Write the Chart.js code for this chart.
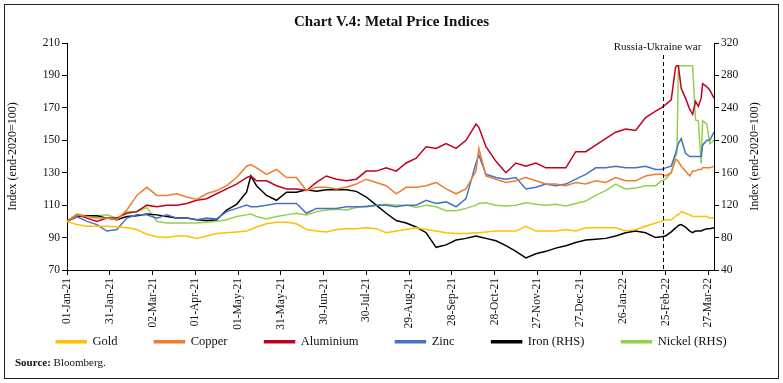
<!DOCTYPE html>
<html>
<head>
<meta charset="utf-8">
<title>Metal Price Indices</title>
<script src="https://cdn.jsdelivr.net/npm/chart.js@4.4.0/dist/chart.umd.min.js"></script>
<style>
  html, body { margin: 0; padding: 0; background: #fff; }
</style>
</head>
<body>
<canvas id="myChart" width="783" height="383"></canvas>
<script>
// x positions: days since 01-Jan-21 (weekly readings, denser around the war)
var days = [0, 7, 14, 21, 28, 35, 42, 49, 56, 63,
            70, 77, 84, 91, 98, 105, 112, 119, 126, 129,
            133, 140, 147, 154, 161, 168, 175, 182, 189, 196,
            203, 210, 217, 224, 231, 238, 245, 252, 259, 266,
            273, 280, 287, 289, 294, 301, 308, 315, 322, 329,
            336, 343, 350, 357, 364, 371, 378, 385, 392, 399,
            406, 413, 417, 420, 424, 427, 428, 429, 431, 434,
            437, 439, 441, 443, 445, 446, 449, 451, 454];

// left axis
var gold = [100, 98, 97, 97, 97, 96.5, 96, 95, 92, 90.5,
            90, 91, 91, 89.5, 91, 92.5, 93, 93.5, 94, 95,
            96.5, 98.5, 99.5, 99.5, 98.5, 95, 94, 93.5, 95, 95.5,
            95.5, 96, 95.5, 93, 94, 95, 96, 95, 94, 93,
            92.5, 92.5, 93, 93, 93.5, 94, 94, 94, 97, 94,
            94, 94, 95, 94, 96, 96, 96, 96, 94, 95,
            97, 99, 100, 101, 101, 103, 104, 104, 106, 105,
            104, 103, 103, 103, 103, 103, 103, 102, 102];
var copper = [100, 104, 103, 102, 102, 101, 107, 116, 121, 116,
              116, 117, 115, 113.5, 117, 119, 122, 127, 134, 135,
              133, 129, 132, 127, 127, 119, 121, 121, 120, 121,
              123, 126, 124, 122, 117, 121, 121, 122, 124, 120,
              117, 120, 131, 145, 128, 126, 124, 125, 127, 125,
              123, 123, 122, 124, 123, 125, 124, 127, 125, 125,
              128, 129, 129, 128, 130, 138, 138, 137, 134, 131,
              128, 131, 131, 132, 132, 133, 133, 133, 134];
var aluminium = [100, 104, 102, 100, 102, 102, 105, 106, 110, 109,
                 110, 110, 111, 113, 114, 117, 120, 123, 127, 128,
                 125, 125, 122, 120, 120, 119, 124, 128, 126, 125,
                 126, 131, 131, 133, 131, 136, 139, 146, 145, 148,
                 145, 150, 160, 158, 146, 137, 130, 136, 134, 136,
                 133, 133, 133, 143, 143, 147, 151, 155, 157, 156,
                 164, 168, 170, 172, 175, 195, 196, 196, 182, 176,
                 169, 166, 174, 171, 176, 185, 183, 181, 176];
var zinc = [100, 103, 100, 98, 94, 95, 102, 104, 104, 102,
            104, 102, 102, 101, 102, 101.5, 106, 108, 110, 109,
            109, 110, 111, 111, 111, 105, 108, 108, 108, 109,
            109, 109, 110, 110, 109, 110, 110, 113, 111, 112,
            109, 114, 136, 141, 129, 127, 126, 127, 120, 121,
            123, 122, 123, 126, 129, 133, 133, 134, 133, 133,
            134, 132, 132, 133, 134, 142, 145, 148, 151, 142,
            140, 140, 140, 140, 140, 147, 150, 150, 155];

// right axis
var iron = [100, 106, 107, 107, 104, 102, 106, 107, 109, 108,
            106, 104, 104, 102, 101, 102, 114, 121, 136, 156,
            144, 132, 126, 136, 136, 139, 137, 139, 139, 139,
            137, 130, 120, 110, 101, 98, 93, 86, 68, 71,
            77, 79, 82, 81, 79, 76, 70, 63, 55, 60,
            63, 67, 70, 74, 77, 78, 79, 82, 86, 88,
            86, 80, 81, 82, 87, 92, 93, 95, 96, 93,
            88, 86, 88, 88, 88, 89, 91, 91, 92];
var nickel = [100, 109, 107, 107, 108, 104, 112, 112, 117, 100,
              98, 98, 98, 98, 99, 100, 102, 106, 108, 109,
              106, 103, 106, 108, 110, 108, 112, 114, 115, 114,
              117, 119, 120, 121, 120, 120, 117, 120, 118, 113,
              113, 116, 120, 122, 123, 120, 119, 120, 123, 121,
              120, 121, 119, 122, 125, 132, 138, 146, 140, 141,
              144, 144, 150, 152, 160, 180, 184, 292, 292, 292,
              292, 292, 225, 224, 171, 224, 220, 196, 200];

var tickDays = [0, 30, 60, 90, 120, 150, 180, 210, 240, 270, 300, 330, 360, 390, 420, 450];
var tickLabels = ['01-Jan-21', '31-Jan-21', '02-Mar-21', '01-Apr-21', '01-May-21', '31-May-21',
                  '30-Jun-21', '30-Jul-21', '29-Aug-21', '28-Sep-21', '28-Oct-21', '27-Nov-21',
                  '27-Dec-21', '26-Jan-22', '25-Feb-22', '27-Mar-22'];
var warDay = 418;

var serif = "'Liberation Serif', 'Times New Roman', serif";

function pts(vals) {
  return vals.map(function (v, i) { return {x: days[i], y: v}; });
}

var extras = {
  id: 'extras',
  afterLayout: function (chart) {
    // the date labels hang below the legend's top edge; stretch the x box so they are not clipped
    var x = chart.scales.x;
    x.bottom = x.top + 60;
    x.height = 60;
  },
  afterDraw: function (chart) {
    var ctx = chart.ctx;
    var area = chart.chartArea;
    ctx.save();
    ctx.strokeStyle = '#222';
    ctx.lineWidth = 1;
    ctx.strokeRect(4.5, 4.5, 774, 374);

    ctx.fillStyle = '#111';
    ctx.textAlign = 'center';
    ctx.textBaseline = 'middle';
    ctx.font = 'bold 15px ' + serif;
    ctx.fillText('Chart V.4: Metal Price Indices', 391.5, 22);

    // war marker
    var wx = Math.round(chart.scales.x.getPixelForValue(warDay)) + 0.5;
    ctx.strokeStyle = '#000';
    ctx.setLineDash([4, 3]);
    ctx.beginPath();
    ctx.moveTo(wx, 55);
    ctx.lineTo(wx, area.bottom);
    ctx.stroke();
    ctx.setLineDash([]);
    ctx.font = '11px ' + serif;
    ctx.fillText('Russia-Ukraine war', wx - 6, 47);

    // right axis title reads bottom to top like the left one
    ctx.save();
    ctx.translate(755, (area.top + area.bottom) / 2);
    ctx.rotate(-Math.PI / 2);
    ctx.font = '12px ' + serif;
    ctx.fillText('Index (end-2020=100)', 0, 0);
    ctx.restore();

    ctx.textAlign = 'left';
    ctx.font = 'bold 11px ' + serif;
    ctx.fillText('Source:', 15, 363);
    var w = ctx.measureText('Source: ').width;
    ctx.font = '11px ' + serif;
    ctx.fillText('Bloomberg.', 15 + w, 363);
    ctx.restore();
  }
};

var tickFont = {family: serif, size: 11.5};

var ctx = document.getElementById('myChart').getContext('2d');
var myChart = new Chart(ctx, {
  type: 'line',
  data: {
    datasets: [{
      label: 'Gold', data: pts(gold), borderColor: '#FFC000', backgroundColor: '#FFC000', yAxisID: 'y'
    }, {
      label: 'Copper', data: pts(copper), borderColor: '#ED7D31', backgroundColor: '#ED7D31', yAxisID: 'y'
    }, {
      label: 'Aluminium', data: pts(aluminium), borderColor: '#C00020', backgroundColor: '#C00020', yAxisID: 'y'
    }, {
      label: 'Zinc', data: pts(zinc), borderColor: '#4472C4', backgroundColor: '#4472C4', yAxisID: 'y'
    }, {
      label: 'Iron (RHS)', data: pts(iron), borderColor: '#000000', backgroundColor: '#000000', yAxisID: 'y1'
    }, {
      label: 'Nickel (RHS)', data: pts(nickel), borderColor: '#92D050', backgroundColor: '#92D050', yAxisID: 'y1'
    }]
  },
  options: {
    responsive: false,
    devicePixelRatio: 1,
    animation: false,
    elements: {
      point: {radius: 0},
      line: {borderWidth: 1.5, tension: 0}
    },
    layout: {padding: {top: 43, left: 0, right: 0, bottom: 25}},
    scales: {
      x: {
        type: 'linear',
        min: 0,
        max: 454,
        afterBuildTicks: function (s) { s.ticks = tickDays.map(function (v) { return {value: v}; }); },
        afterFit: function (s) { s.height = 28.5; },
        ticks: {
          autoSkip: false, minRotation: 90, maxRotation: 90, padding: 3, color: '#111', font: tickFont,
          callback: function (v) { return tickLabels[tickDays.indexOf(v)]; }
        },
        grid: {drawOnChartArea: false, tickLength: 5, color: '#000'},
        border: {color: '#000'}
      },
      y: {
        position: 'left',
        min: 70,
        max: 210,
        afterFit: function (s) { s.width = 67; },
        ticks: {stepSize: 20, padding: 2, color: '#111', font: tickFont},
        grid: {drawOnChartArea: false, tickLength: 5, color: '#000'},
        border: {color: '#000'},
        title: {display: true, text: 'Index (end-2020=100)', color: '#111',
                font: {family: serif, size: 12}, padding: {top: 6, bottom: 0}}
      },
      y1: {
        position: 'right',
        min: 40,
        max: 320,
        afterFit: function (s) { s.width = 69; },
        ticks: {stepSize: 40, padding: 2, color: '#111', font: tickFont},
        grid: {drawOnChartArea: false, tickLength: 5, color: '#000'},
        border: {color: '#000'}
      }
    },
    plugins: {
      legend: {
        position: 'bottom',
        labels: {boxWidth: 30, boxHeight: 2, padding: 37, color: '#111', font: {family: serif, size: 12.5}}
      },
      tooltip: {enabled: false}
    }
  },
  plugins: [extras]
});
</script>
</body>
</html>
